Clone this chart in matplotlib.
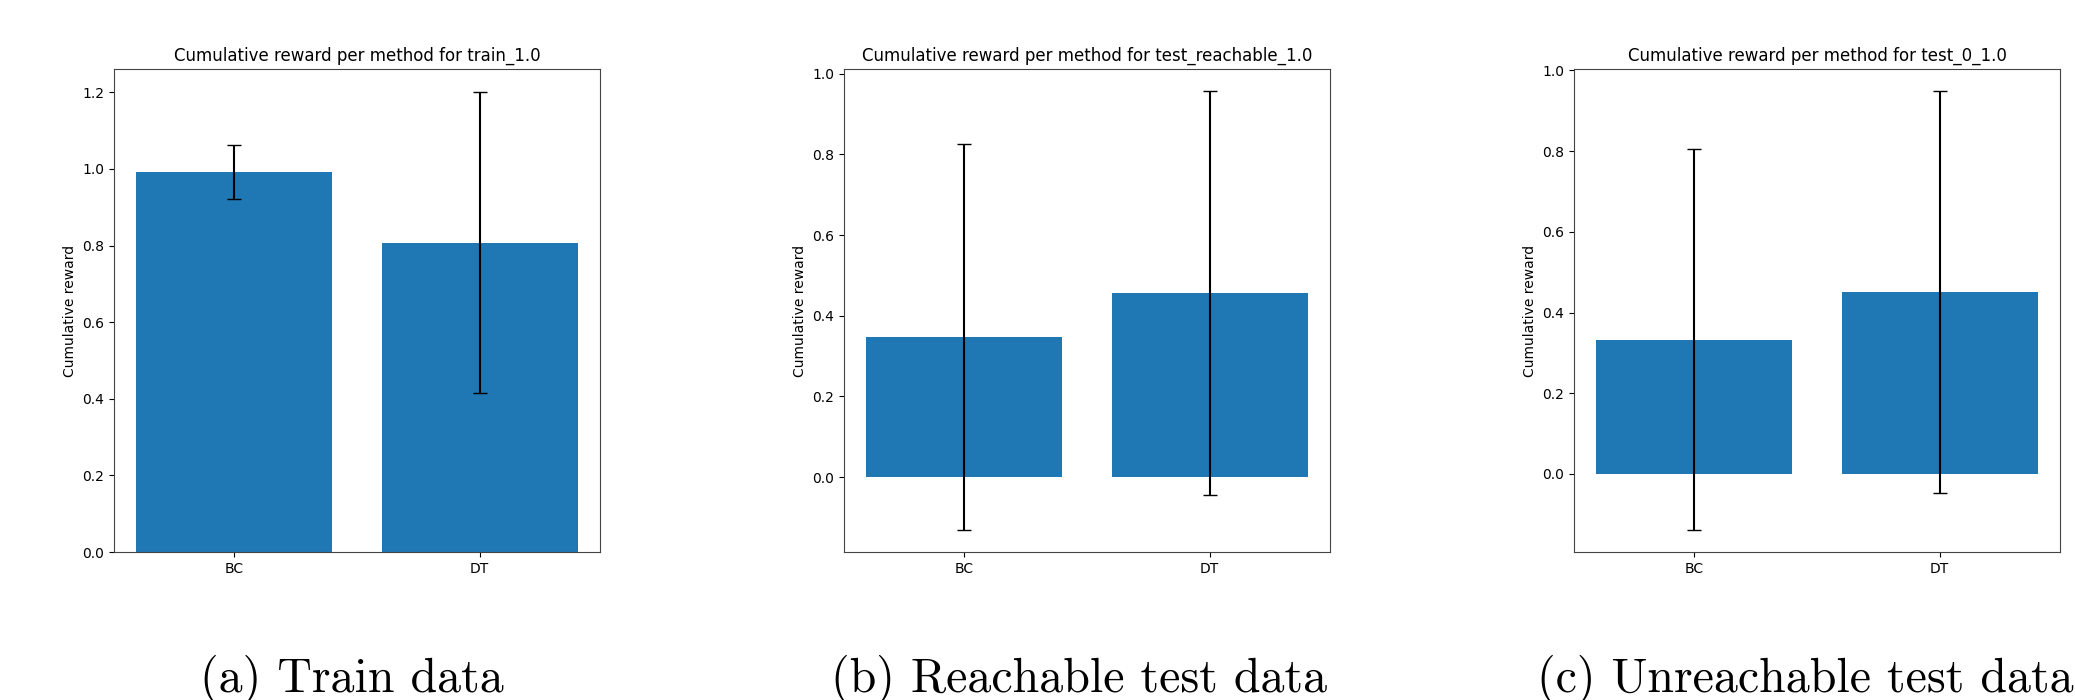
import matplotlib

matplotlib.use("Agg")
import matplotlib.pyplot as plt  # noqa: E402

methods = ["BC", "DT"]

# one entry per panel: (dataset name, caption, means, std)
datasets = ["train_1.0", "test_reachable_1.0", "test_0_1.0"]
captions = ["(a) Train data", "(b) Reachable test data", "(c) Unreachable test data"]
means = [
    [0.992, 0.808],
    [0.347, 0.457],
    [0.333, 0.451],
]
stds = [
    [0.071, 0.393],
    [0.478, 0.500],
    [0.472, 0.498],
]

W, H = 2075, 700
fig = plt.figure(figsize=(W / 100, H / 100), dpi=100)

ax_left = [114, 844, 1574]
caption_left = [200, 831, 1537]
ax_w, ax_top, ax_bottom = 486, 69, 552

for i, name in enumerate(datasets):
    ax = fig.add_axes([
        ax_left[i] / W,
        (H - ax_bottom) / H,
        ax_w / W,
        (ax_bottom - ax_top) / H,
    ])
    ax.bar(methods, means[i], yerr=stds[i], capsize=5, color="#1f77b4")
    ax.set_ylabel("Cumulative reward")
    ax.set_title(f"Cumulative reward per method for {name}")
    for s in ax.spines.values():
        s.set_color("#444444")

    fig.text(caption_left[i] / W, (H - 692) / H, captions[i],
             fontfamily="cmr10", fontsize=34.5, ha="left", va="baseline")

fig.savefig("out.png", dpi=100)
